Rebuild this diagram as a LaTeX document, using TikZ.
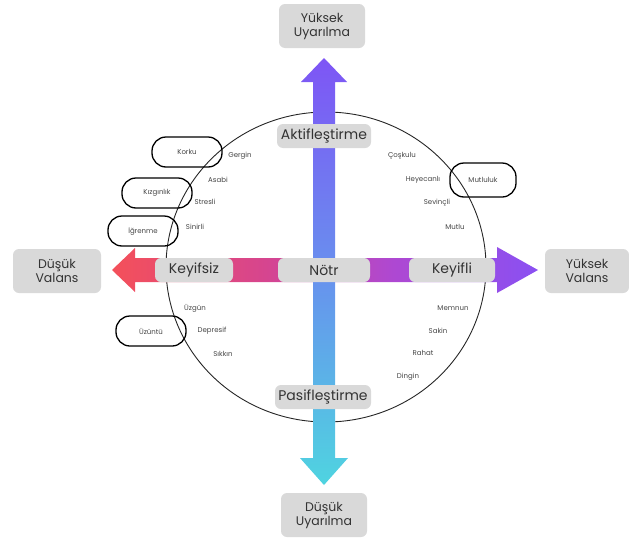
\documentclass[tikz,border=0pt]{standalone}
\usepackage{fontspec}
\setmainfont{Poppins}
\usetikzlibrary{positioning}

\definecolor{vred}{HTML}{F4505A}
\definecolor{vpink}{HTML}{D6458F}
\definecolor{vpurple}{HTML}{AE48D2}
\definecolor{vviolet}{HTML}{8A50F2}
\definecolor{uviolet}{HTML}{7E55F5}
\definecolor{ublue}{HTML}{6890EE}
\definecolor{ucyan}{HTML}{4FD4E0}
\definecolor{txtgray}{HTML}{333333}
\definecolor{wordgray}{HTML}{444444}

\pgfdeclarehorizontalshading{valans}{100bp}{color(0bp)=(vred); color(25bp)=(vred); color(43bp)=(vpink); color(58bp)=(vpurple); color(75bp)=(vviolet); color(100bp)=(vviolet)}
\pgfdeclareverticalshading{uyarilma}{100bp}{color(0bp)=(ucyan); color(25bp)=(ucyan); color(50bp)=(ublue); color(75bp)=(uviolet); color(100bp)=(uviolet)}

\tikzstyle{pole} = [rectangle, rounded corners=6pt, fill=gray!30, text=txtgray, align=center, font=\fontsize{12.5}{14}\selectfont, minimum width=86pt, minimum height=44pt, inner sep=2pt]
\tikzstyle{axislbl} = [rectangle, rounded corners=6pt, fill=gray!30, text=txtgray, font=\fontsize{14}{16}\selectfont, minimum height=24pt, inner sep=2pt]
\tikzstyle{word} = [font=\fontsize{7}{8}\selectfont, text=wordgray, inner sep=0pt]
\tikzstyle{emotion} = [word, draw=black, line width=1.3pt, rounded corners=14pt, minimum width=70pt, minimum height=30pt]

\begin{document}
\begin{tikzpicture}[x=1pt, y=-1pt]
    \useasboundingbox (0,0) rectangle (629,541);

    % circle
    \draw[line width=0.9pt, black!85] (326,267) ellipse [x radius=160pt, y radius=155pt];

    % valence axis
    \shade[shading=valans] (112,270) -- (135,248) -- (135,258) -- (497,258) -- (497,247) -- (538,270)
        -- (497,293) -- (497,282) -- (135,282) -- (135,292) -- cycle;
    % arousal axis
    \shade[shading=uyarilma] (324,58) -- (347,82) -- (335,82) -- (335,458) -- (348,458) -- (324,485)
        -- (300,458) -- (313,458) -- (313,82) -- (301,82) -- cycle;

    % poles
    \node (hiaro) [pole] at (322,26) {Yüksek\\Uyarılma};
    \node (loaro) [pole] at (324,515) {Düşük\\Uyarılma};
    \node (loval) [pole, minimum width=88pt] at (57,271) {Düşük\\Valans};
    \node (hival) [pole, minimum width=84pt] at (587,271) {Yüksek\\Valans};

    % axis labels
    \node (aktif)    [axislbl, minimum width=94pt] at (324,136) {Aktifleştirme};
    \node (pasif)    [axislbl, minimum width=96pt] at (323,397) {Pasifleştirme};
    \node (keyifsiz) [axislbl, minimum width=78pt] at (194,270) {Keyifsiz};
    \node (notr)     [axislbl, minimum width=92pt] at (324,270) {Nötr};
    \node (keyifli)  [axislbl, minimum width=86pt] at (452,270) {Keyifli};

    % top left
    \node (korku)   [emotion] at (187,152) {Korku};
    \node (kizgin)  [emotion] at (157,193) {Kızgınlık};
    \node (igrenme) [emotion] at (143,231) {İğrenme};
    \node (gergin)  [word] at (240,156) {Gergin};
    \node (asabi)   [word] at (218,180) {Asabi};
    \node (stresli) [word] at (205,202) {Stresli};
    \node (sinirli) [word] at (195,227) {Sinirli};

    % top right
    \node (coskulu)  [word] at (402,156) {Çoşkulu};
    \node (heyecan)  [word] at (423,180) {Heyecanlı};
    \node (mutluluk) [emotion, minimum width=66pt, minimum height=34pt] at (483,180) {Mutluluk};
    \node (sevincli) [word] at (437,203) {Sevinçli};
    \node (mutlu)    [word] at (455,227) {Mutlu};

    % bottom left
    \node (uzgun)    [word] at (195,308) {Üzgün};
    \node (uzuntu)   [emotion] at (151,331) {Üzüntü};
    \node (depresif) [word] at (212,331) {Depresif};
    \node (sikkin)   [word] at (223,354) {Sıkkın};

    % bottom right
    \node (memnun) [word] at (453,308) {Memnun};
    \node (sakin)  [word] at (438,331) {Sakin};
    \node (rahat)  [word] at (423,353) {Rahat};
    \node (dingin) [word] at (408,377) {Dingin};
\end{tikzpicture}
\end{document}
